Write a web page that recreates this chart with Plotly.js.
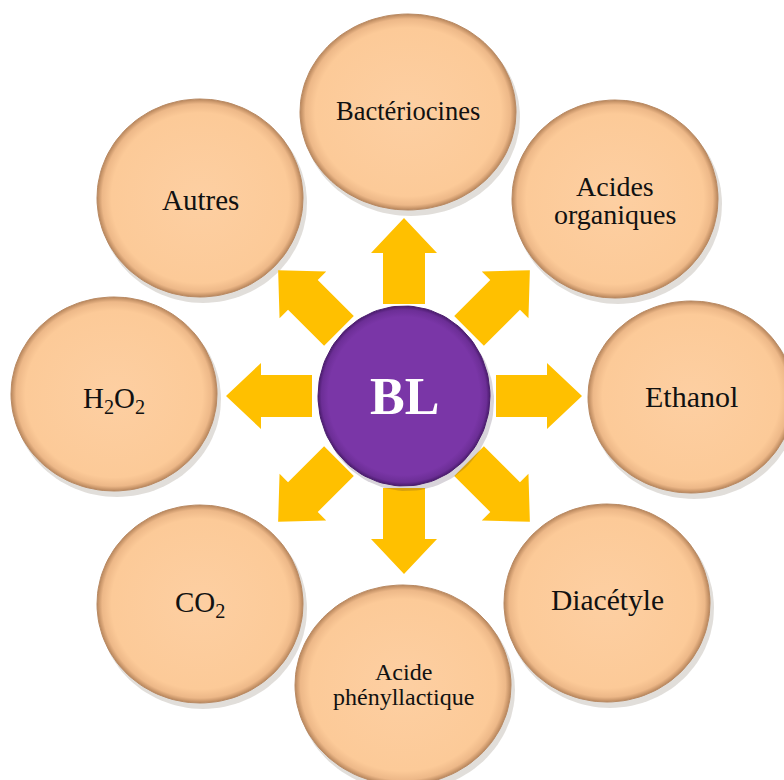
<!DOCTYPE html>
<html>
<head>
<meta charset="utf-8">
<script src="https://cdn.plot.ly/plotly-3.0.1.min.js"></script>
<style>html,body{margin:0;padding:0;background:#fff;}#chart{width:784px;height:780px;}</style>
</head>
<body>
<div id="chart"></div>
<script>
// Products of lactic acid bacteria (BL), clockwise from the top
var labels = [["Bactériocines"], ["Acides", "organiques"], ["Ethanol"], ["Diacétyle"],
              ["Acide", "phényllactique"], ["CO<sub>2</sub>"], ["H<sub>2</sub>O<sub>2</sub>"], ["Autres"]];
var angles = [90, 45, 0, -45, -90, -135, 180, 135];   // direction of each arrow, degrees
var fontSizes = [26.5, 28, 30, 29.5, 24, 29, 29, 29];
var centerLabel = "BL";

var CX = 404, CY = 396;
var cenX = [408, 615, 691, 607, 403, 200, 114, 200];
var cenY = [112, 199, 397, 603, 685, 604, 394, 198];
var radX = [108, 103, 103, 103, 108, 103, 103, 103];
var radY = [98, 99, 96, 99, 100, 99, 97, 99];
var textY = [[111], [186, 214], [396], [600], [672, 697], [604], [400], [200]];

function ellipse(cx, cy, rx, ry) {
  var xs = [], ys = [];
  for (var i = 0; i <= 120; i++) {
    var t = i / 120 * 2 * Math.PI;
    xs.push(cx + rx * Math.cos(t)); ys.push(cy + ry * Math.sin(t));
  }
  return {x: xs, y: ys};
}
function arrow(angDeg) {
  var a = angDeg * Math.PI / 180;
  var ux = Math.cos(a), uy = -Math.sin(a);
  var px = -uy, py = ux;
  var r0 = 92, r1 = 143, r2 = 178, w = 21, hw = 33;
  var pts = [[r0, -w], [r1, -w], [r1, -hw], [r2, 0], [r1, hw], [r1, w], [r0, w], [r0, -w]];
  return {
    x: pts.map(function (p) { return CX + ux * p[0] + px * p[1]; }),
    y: pts.map(function (p) { return CY + uy * p[0] + py * p[1]; })
  };
}

var traces = [];
var annotations = [];
var FONT = 'Liberation Serif, Times New Roman, serif';

// shadows
cenX.forEach(function (x, i) {
  var e = ellipse(x + 3, cenY[i] + 5, radX[i] + 1, radY[i] + 1);
  traces.push({type: 'scatter', mode: 'lines', x: e.x, y: e.y, fill: 'toself',
    fillcolor: 'rgba(90,70,50,0.18)', line: {width: 0}, hoverinfo: 'skip', showlegend: false});
});
// outer circles
cenX.forEach(function (x, i) {
  var e = ellipse(x, cenY[i], radX[i], radY[i]);
  traces.push({type: 'scatter', mode: 'lines', x: e.x, y: e.y, fill: 'toself',
    fillgradient: {type: 'radial', colorscale: [[0, '#FDCFA2'], [0.86, '#FCCA98'], [0.95, '#EDB888'], [1, '#B8865C']]},
    line: {width: 1, color: '#B98A63'}, hoverinfo: 'skip', showlegend: false});
  labels[i].forEach(function (line, j) {
    annotations.push({x: x, y: textY[i][j], xref: 'x', yref: 'y', text: line, showarrow: false,
      font: {family: FONT, size: fontSizes[i], color: '#111'},
      align: 'center', xanchor: 'center', yanchor: 'middle'});
  });
});
// arrows
angles.forEach(function (ang) {
  var p = arrow(ang);
  traces.push({type: 'scatter', mode: 'lines', x: p.x, y: p.y, fill: 'toself',
    fillcolor: '#FFC000', line: {width: 0}, hoverinfo: 'skip', showlegend: false});
});
// center
var sh = ellipse(CX + 3, CY + 5, 87, 90);
traces.push({type: 'scatter', mode: 'lines', x: sh.x, y: sh.y, fill: 'toself',
  fillcolor: 'rgba(60,40,70,0.2)', line: {width: 0}, hoverinfo: 'skip', showlegend: false});
var ce = ellipse(CX, CY, 86, 90);
traces.push({type: 'scatter', mode: 'lines', x: ce.x, y: ce.y, fill: 'toself',
  fillgradient: {type: 'radial', colorscale: [[0, '#7A36A7'], [0.88, '#7A36A7'], [0.96, '#6C2E96'], [1, '#4B1C6E']]},
  line: {width: 1, color: '#4B1C6E'}, hoverinfo: 'skip', showlegend: false});
annotations.push({x: CX, y: CY, xref: 'x', yref: 'y', text: '<b>' + centerLabel + '</b>', showarrow: false,
  font: {family: FONT, size: 52, color: '#FFFFFF'},
  xanchor: 'center', yanchor: 'middle'});

var layout = {
  width: 784, height: 780,
  margin: {l: 0, r: 0, t: 0, b: 0},
  paper_bgcolor: '#FFFFFF', plot_bgcolor: '#FFFFFF',
  xaxis: {range: [0, 784], visible: false, fixedrange: true},
  yaxis: {range: [780, 0], visible: false, fixedrange: true},
  showlegend: false,
  annotations: annotations
};
Plotly.newPlot('chart', traces, layout, {staticPlot: true, displayModeBar: false});
</script>
</body>
</html>
